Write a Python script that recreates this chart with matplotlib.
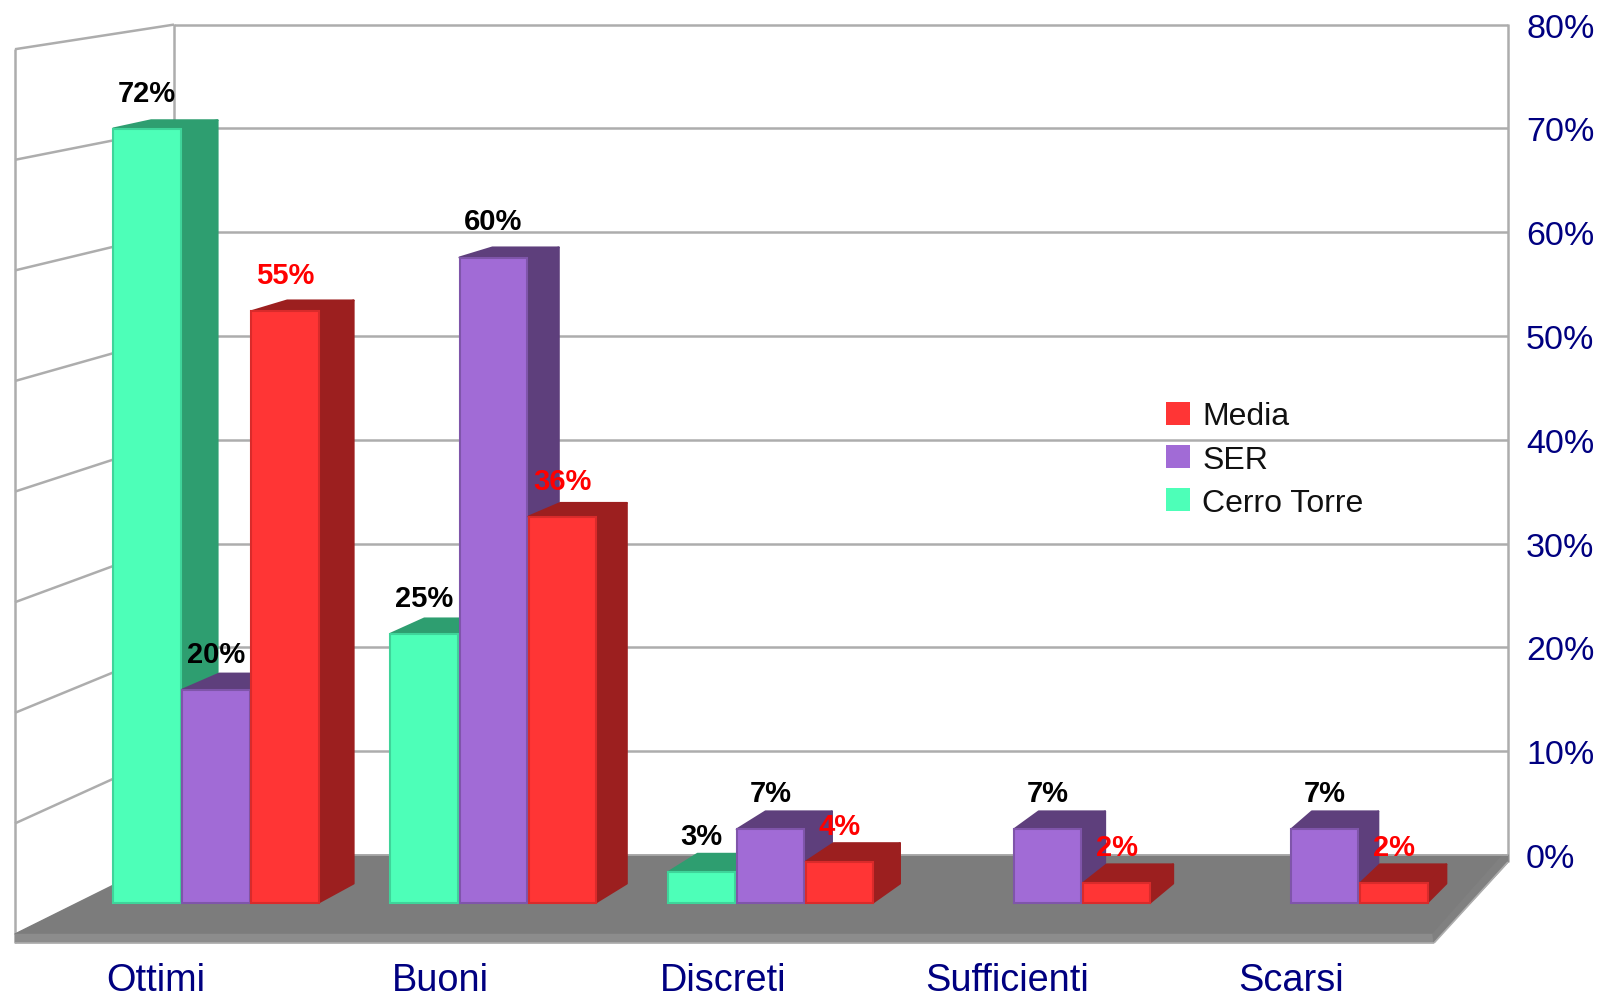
import matplotlib
matplotlib.use("Agg")
import matplotlib.pyplot as plt
from matplotlib.patches import Patch

plt.rcParams['font.family'] = ['Liberation Sans', 'DejaVu Sans']

# Data
categories = ['Ottimi', 'Buoni', 'Discreti', 'Sufficienti', 'Scarsi']
cerro_torre = [72, 25, 2.8, None, None]
ser = [19.8, 60, 6.8, 6.8, 6.8]
media = [55, 35.9, 3.8, 1.8, 1.8]
axis_ticks = [0, 10, 20, 30, 40, 50, 60, 70, 80]
category_label_px = [156, 440, 723, 1007, 1291]

series = [
    ('Cerro Torre', cerro_torre, '#4DFFB8', '#2E9E70', '#3FD49A', 'black'),
    ('SER', ser, '#A16BD6', '#5E3F7C', '#7F55AA', 'black'),
    ('Media', media, '#FF3535', '#9C1F1F', '#D92B2B', '#FF0000'),
]

# Picture geometry (pixels of the 1598x995 figure)
W, H = 1598, 995
X0, X_STEP = 216.0, 277.2   # category 0 centre, px per category
Y0, Y_STEP = 903.5, 10.75   # 0% on the bars front plane, px per percent
BAR_PITCH, BAR_W = 0.249, 0.243
GRID = '#ADADAD'
NAVY = '#000080'

fig = plt.figure(figsize=(W / 100, H / 100), dpi=100)
ax = fig.add_axes([0, 0, 1, 1])
ax.set_xlim(-X0 / X_STEP, (W - X0) / X_STEP)
ax.set_ylim((Y0 - H) / Y_STEP, Y0 / Y_STEP)
ax.axis('off')


def px(x, y):
    return (x - X0) / X_STEP, (Y0 - y) / Y_STEP


def back(x, v):
    # bar's back corner for a front corner at category x, value v
    xp = X0 + x * X_STEP
    return px(xp + 39.5 - 0.0145 * xp, 884.5 - 10.6 * v)


def poly(points, color, z, edge=None, lw=1.0):
    xs = [p[0] for p in points]
    ys = [p[1] for p in points]
    ax.fill(xs, ys, facecolor=color, edgecolor=edge or color, linewidth=lw,
            joinstyle='round', zorder=z)


def line(p1, p2, z=1, lw=1.8):
    a, b = px(*p1), px(*p2)
    ax.plot([a[0], b[0]], [a[1], b[1]], color=GRID, lw=lw, zorder=z,
            solid_capstyle='butt')


# Walls and gridlines
for t in axis_ticks[1:]:
    back_y = 856 - 10.38 * t
    line((174, back_y), (1508, back_y))
    line((15, 935 - 11.06 * t), (174, back_y))
line((174, 25), (174, 856))
line((15, 50), (15, 944))
line((1508, 25), (1508, 863))

# Floor
poly([px(15, 935), px(174, 856), px(1503, 856), px(1433, 935)], '#7C7C7C', 2)
poly([px(15, 935), px(1433, 935), px(1433, 943), px(15, 943)], '#8C8C8C', 2)
poly([px(1433, 935), px(1503, 856), px(1508, 856), px(1508, 863), px(1434, 943)], '#808080', 2)
line((174, 856), (1508, 856), z=2, lw=1.2)
line((15, 944), (1434, 944), z=2, lw=1.2)
line((1434, 944), (1508, 863), z=2, lw=1.2)

# Bars, left to right so that nearer sides overlap correctly
z = 3
for i in range(len(categories)):
    for k, (name, values, front, side, edge, text_color) in enumerate(series):
        v = values[i]
        if v is None:
            continue
        xc = i + (k - 1) * BAR_PITCH
        xl, xr = xc - BAR_W / 2, xc + BAR_W / 2
        poly([(xl, v), (xr, v), back(xr, v), back(xl, v)], side, z, lw=1.5)
        poly([(xr, v), back(xr, v), back(xr, 0), (xr, 0)], side, z, lw=1.5)
        ax.bar(xc, v, BAR_W, color=front, edgecolor=edge, linewidth=1.5, zorder=z + 0.5)
        z += 1

# Value labels
for i in range(len(categories)):
    for k, (name, values, front, side, edge, text_color) in enumerate(series):
        v = values[i]
        if v is None:
            continue
        ax.text(i + (k - 1) * BAR_PITCH, v + 28 / Y_STEP, f'{v:.0f}%', color=text_color,
                fontsize=21, fontweight='bold', ha='center', va='baseline', zorder=50)

# Axis labels
for t in axis_ticks:
    x, y = px(1526, 856 - 10.38 * t)
    ax.text(x, y, f'{t}%', color=NAVY, fontsize=24.5, ha='left', va='center_baseline', zorder=50)
for name, xp in zip(categories, category_label_px):
    x, y = px(xp, 991)
    ax.text(x, y, name, color=NAVY, fontsize=27.3, ha='center', va='baseline', zorder=50)

# Legend
handles = [Patch(facecolor=s[2], edgecolor='none') for s in reversed(series)]
labels = [s[0] for s in reversed(series)]
ax.legend(handles, labels, loc='upper left', bbox_to_anchor=(1166 / W, 1 - 402.5 / H),
          frameon=False, fontsize=23, borderpad=0, borderaxespad=0, handlelength=0.75,
          handleheight=0.75, handletextpad=0.38, labelspacing=0.41,
          labelcolor='#111111').set_zorder(60)

fig.savefig('out.png', dpi=100)
